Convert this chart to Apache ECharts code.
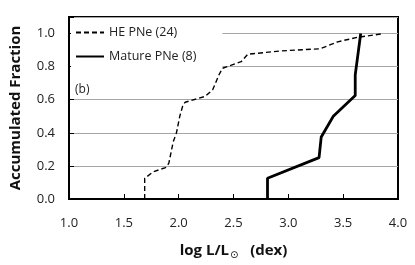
<!DOCTYPE html>
<html>
<head>
<meta charset="utf-8">
<script src="https://cdn.jsdelivr.net/npm/echarts@6/dist/echarts.min.js"></script>
<style>html,body{margin:0;padding:0;background:#fff}#c{width:415px;height:265px}</style>
</head>
<body>
<div id="c"></div>
<script>
var heName = 'HE PNe (24)';
var heX = [1.69, 1.69, 1.77, 1.88, 1.91, 1.95, 1.98, 2.01, 2.04, 2.06, 2.24, 2.31, 2.37, 2.40, 2.57, 2.63, 2.93, 3.29, 3.45, 3.63, 3.87];
var heY = [0, 0.125, 0.165, 0.19, 0.215, 0.345, 0.40, 0.50, 0.57, 0.585, 0.62, 0.66, 0.754, 0.79, 0.83, 0.875, 0.895, 0.908, 0.95, 0.977, 1.0];
var matName = 'Mature PNe (8)';
var matX = [2.81, 2.81, 3.28, 3.30, 3.41, 3.61, 3.61, 3.66];
var matY = [0, 0.125, 0.25, 0.375, 0.5, 0.625, 0.75, 1.0];
var xTicks = [1.0, 1.5, 2.0, 2.5, 3.0, 3.5, 4.0];
var yTicks = [0.0, 0.2, 0.4, 0.6, 0.8, 1.0];

function zip(a, b) { return a.map(function (v, i) { return [v, b[i]]; }); }
var font = '"Open Sans", "Liberation Sans", sans-serif';

var chart = echarts.init(document.getElementById('c'), null, {renderer: 'canvas'});
chart.setOption({
  animation: false,
  backgroundColor: '#fff',
  grid: {left: 67, right: 17, top: 17, bottom: 64, show: true, borderColor: '#000', borderWidth: 2, backgroundColor: 'transparent'},
  legend: {
    orient: 'vertical', left: 71, top: 22, itemWidth: 28, itemHeight: 12, itemGap: 11,
    backgroundColor: '#fff', padding: [4, 26, 4, 4],
    itemStyle: {opacity: 0},
    textStyle: {fontFamily: font, fontSize: 12.5, color: '#222'},
    data: [heName, matName]
  },
  graphic: [{type: 'text', left: 75, top: 84, style: {text: '(b)', font: '12px ' + font, fill: '#222'}}],
  xAxis: {
    type: 'value', min: xTicks[0], max: xTicks[xTicks.length - 1], interval: 0.5,
    axisLine: {show: true, lineStyle: {color: '#000', width: 2}},
    axisTick: {show: true, inside: true, length: 5, lineStyle: {color: '#000', width: 1}},
    axisLabel: {margin: 18, fontFamily: font, fontSize: 13, color: '#222', formatter: function (v) { return v.toFixed(1); }},
    splitLine: {show: false},
    name: '{a|log L/L}{s|⊙}{a|   (dex)}', nameLocation: 'middle', nameGap: 42,
    nameTextStyle: {rich: {a: {fontFamily: font, fontSize: 15, fontWeight: 'bold', color: '#111'}, s: {fontFamily: 'DejaVu Sans', fontSize: 10, color: '#111', padding: [9, 0, 0, 1]}}}
  },
  yAxis: {
    type: 'value', min: 0, max: 1.1, interval: 0.2,
    axisLine: {show: true, lineStyle: {color: '#000', width: 2}},
    axisTick: {show: true, inside: true, length: 5, lineStyle: {color: '#000', width: 1}},
    axisLabel: {margin: 14, fontFamily: font, fontSize: 13, color: '#222', formatter: function (v) { return v > 1.05 ? '' : v.toFixed(1); }},
    splitLine: {show: true, lineStyle: {color: '#a6a6a6', width: 1}},
    name: 'Accumulated Fraction', nameLocation: 'middle', nameGap: 46, nameRotate: 90,
    nameTextStyle: {fontFamily: font, fontSize: 15, fontWeight: 'bold', color: '#111'}
  },
  series: [
    {name: heName, type: 'line', data: zip(heX, heY), showSymbol: false, symbol: 'none', z: 3,
      lineStyle: {color: '#000', width: 1.4, type: [5, 3]}, itemStyle: {color: '#000'}},
    {name: matName, type: 'line', data: zip(matX, matY), showSymbol: false, symbol: 'none', z: 4,
      lineStyle: {color: '#000', width: 2.8}, itemStyle: {color: '#000'}}
  ]
});
</script>
</body>
</html>
